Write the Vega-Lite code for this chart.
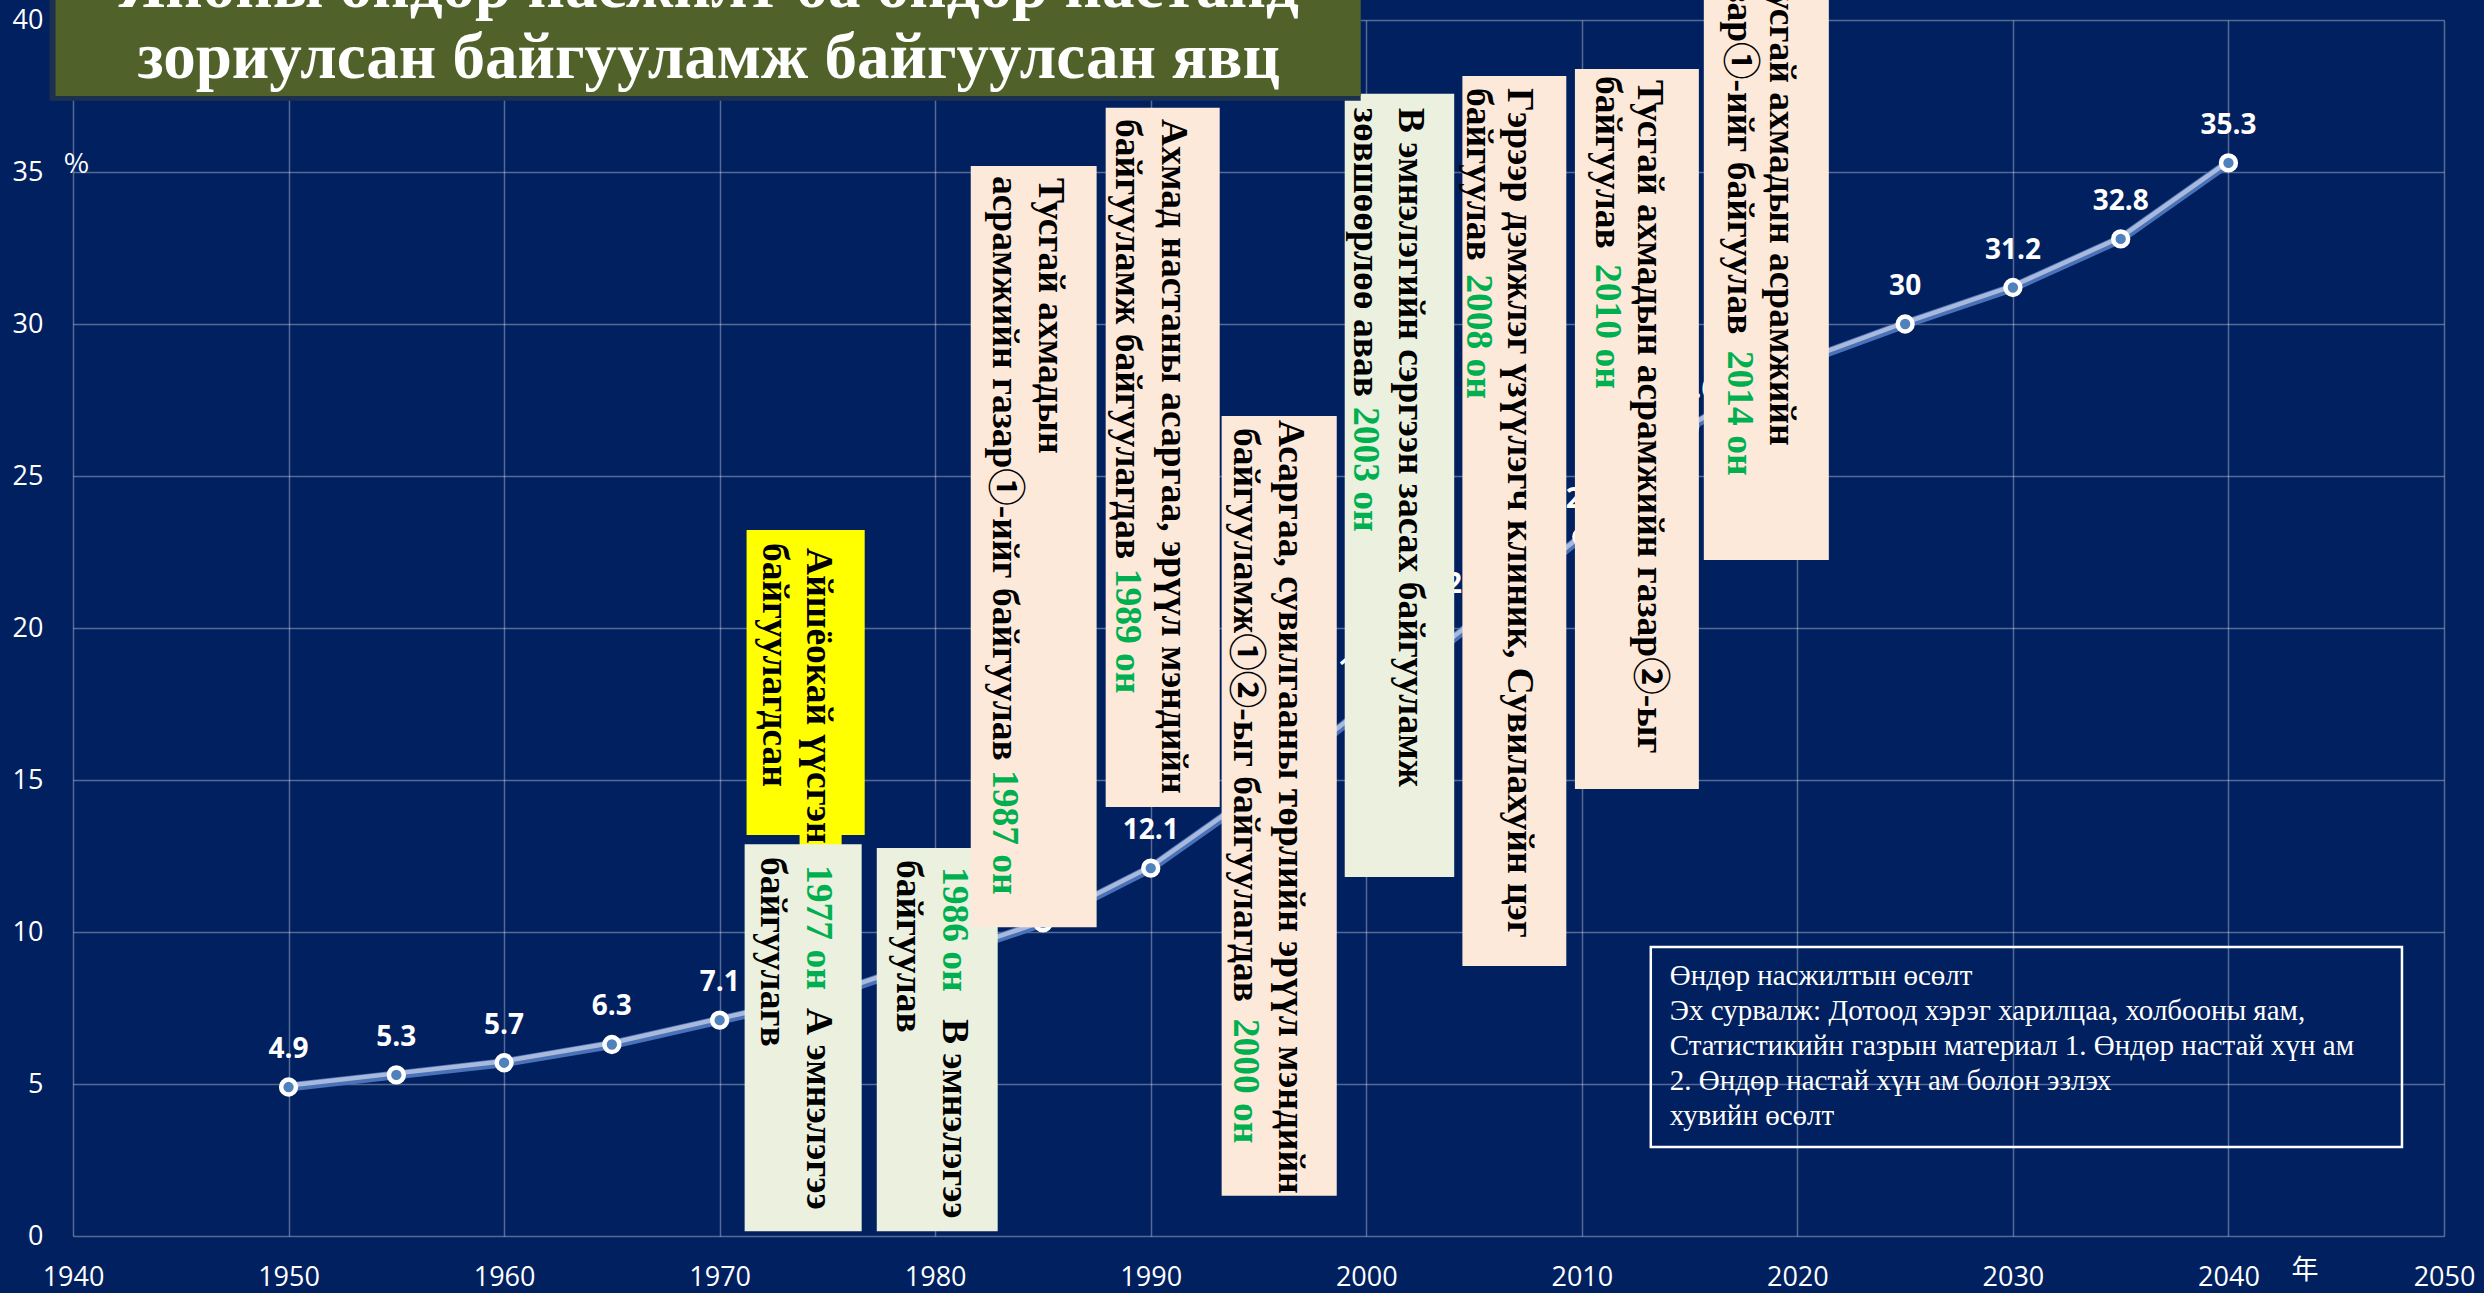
{
  "$schema": "https://vega.github.io/schema/vega-lite/v6.json",
  "width": 2371,
  "height": 1216,
  "autosize": {"type": "none"},
  "padding": {"left": 73, "top": 20, "right": 40, "bottom": 57},
  "background": "#002060",
  "config": {
    "view": {"stroke": null},
    "axis": {"grid": true, "domain": false, "ticks": false, "labelFont": "Open Sans", "labelFontSize": 27,
      "labelColor": "#ffffff", "labelFlush": false, "labelOverlap": false,
      "gridColor": "#ffffff", "gridOpacity": 0.33, "gridWidth": 1.5},
    "axisX": {"labelPadding": 28},
    "axisY": {"labelPadding": 30}
  },
  "datasets": {
    "series": [
      {"year": 1950, "pct": 4.9}, {"year": 1955, "pct": 5.3}, {"year": 1960, "pct": 5.7},
      {"year": 1965, "pct": 6.3}, {"year": 1970, "pct": 7.1}, {"year": 1975, "pct": 7.9},
      {"year": 1980, "pct": 9.1}, {"year": 1985, "pct": 10.3}, {"year": 1990, "pct": 12.1},
      {"year": 1995, "pct": 14.6}, {"year": 2000, "pct": 17.4}, {"year": 2005, "pct": 20.2},
      {"year": 2010, "pct": 23.0}, {"year": 2015, "pct": 26.6}, {"year": 2020, "pct": 28.7},
      {"year": 2025, "pct": 30}, {"year": 2030, "pct": 31.2}, {"year": 2035, "pct": 32.8},
      {"year": 2040, "pct": 35.3}
    ],
    "boxes": [
      {"x1": 1971.25, "x2": 1976.73, "y1": 23.22, "y2": 13.19, "kind": "origin"},
      {"x1": 1973.71, "x2": 1975.66, "y1": 13.2, "y2": 12.83, "kind": "origin"},
      {"x1": 1971.16, "x2": 1976.59, "y1": 12.89, "y2": 0.16, "kind": "hospital"},
      {"x1": 1977.29, "x2": 1982.90, "y1": 12.76, "y2": 0.16, "kind": "hospital"},
      {"x1": 1981.65, "x2": 1987.49, "y1": 35.20, "y2": 10.16, "kind": "facility"},
      {"x1": 1987.91, "x2": 1993.20, "y1": 37.11, "y2": 14.11, "kind": "facility"},
      {"x1": 1993.29, "x2": 1998.63, "y1": 26.97, "y2": 1.32, "kind": "facility"},
      {"x1": 1999.00, "x2": 2004.08, "y1": 37.57, "y2": 11.81, "kind": "hospital"},
      {"x1": 2004.46, "x2": 2009.28, "y1": 38.16, "y2": 8.88, "kind": "facility"},
      {"x1": 2009.68, "x2": 2015.43, "y1": 38.39, "y2": 14.70, "kind": "facility"},
      {"x1": 2015.66, "x2": 2021.46, "y1": 42.0, "y2": 22.24, "kind": "facility"}
    ],
    "notes": [
      {"x": 1974.55, "y": 22.63, "text": "Айшёокай үүсгэн", "role": "event"},
      {"x": 1972.51, "y": 22.80, "text": "байгуулагдсан", "role": "event"},
      {"x": 1974.55, "y": 12.20, "text": "1977 он", "role": "year"},
      {"x": 1974.55, "y": 7.50, "text": "А эмнэлэгээ", "role": "event"},
      {"x": 1972.41, "y": 12.47, "text": "байгуулагв", "role": "event"},
      {"x": 1980.86, "y": 12.14, "text": "1986 он", "role": "year"},
      {"x": 1980.86, "y": 7.14, "text": "В эмнэлэгээ", "role": "event"},
      {"x": 1978.72, "y": 12.37, "text": "байгуулав", "role": "event"},
      {"x": 1985.31, "y": 34.80, "text": "Тусгай ахмадын", "role": "event"},
      {"x": 1983.18, "y": 34.87, "text": "асрамжийн газар①-ийг байгуулав", "role": "event"},
      {"x": 1983.18, "y": 15.33, "text": "1987 он", "role": "year"},
      {"x": 1991.02, "y": 36.74, "text": "Ахмад настаны асаргаа, эрүүл мэндийн", "role": "event"},
      {"x": 1988.89, "y": 36.74, "text": "байгууламж байгуулагдав", "role": "event"},
      {"x": 1988.89, "y": 21.95, "text": "1989 он", "role": "year"},
      {"x": 1996.45, "y": 26.84, "text": "Асаргаа, сувилгааны төрлийн эрүүл мэндийн", "role": "event"},
      {"x": 1994.36, "y": 26.58, "text": "байгууламж①②-ыг байгуулагдав", "role": "event"},
      {"x": 1994.36, "y": 7.15, "text": "2000 он", "role": "year"},
      {"x": 2002.02, "y": 37.11, "text": "В эмнэлэгийн сэргээн засах байгууламж", "role": "event"},
      {"x": 1999.93, "y": 37.11, "text": "зөвшөөрлөө авав", "role": "event"},
      {"x": 1999.93, "y": 27.27, "text": "2003 он", "role": "year"},
      {"x": 2007.08, "y": 37.76, "text": "Гэрээр дэмжлэг үзүүлэгч клиник, Сувилахуйн цэг", "role": "event"},
      {"x": 2005.17, "y": 37.76, "text": "байгуулав", "role": "event"},
      {"x": 2005.17, "y": 31.64, "text": "2008 он", "role": "year"},
      {"x": 2013.11, "y": 38.03, "text": "Тусгай ахмадын асрамжийн газар②-ыг", "role": "event"},
      {"x": 2011.16, "y": 38.16, "text": "байгуулав", "role": "event"},
      {"x": 2011.16, "y": 31.97, "text": "2010 он", "role": "year"},
      {"x": 2019.23, "y": 41.71, "text": "Тусгай ахмадын асрамжийн", "role": "event"},
      {"x": 2017.29, "y": 42.25, "text": "газар①-ийг байгуулав", "role": "event"},
      {"x": 2017.29, "y": 29.12, "text": "2014 он", "role": "year"}
    ],
    "titlebox": [
      {"x1": 1938.91, "x2": 1999.74, "y1": 41.0, "y2": 37.34, "part": "shadow"},
      {"x1": 1939.19, "x2": 1999.74, "y1": 41.0, "y2": 37.50, "part": "panel"}
    ],
    "titletext": [
      {"x": 1969.49, "y": 40.43, "text": "Японы өндөр насжилт ба өндөр настанд"},
      {"x": 1969.49, "y": 38.09, "text": "зориулсан байгууламж байгуулсан явц"}
    ],
    "sourcebox": [
      {"x1": 2013.20, "x2": 2048.05, "y1": 9.51, "y2": 2.93}
    ],
    "sourcetext": [
      {"x": 2014.08, "y": 8.26, "text": "Өндөр насжилтын өсөлт\nЭх сурвалж: Дотоод хэрэг харилцаа, холбооны яам,\nСтатистикийн газрын материал 1. Өндөр настай хүн ам\n2. Өндөр настай хүн ам болон эзлэх\nхувийн өсөлт"}
    ],
    "units": [
      {"x": 1940.16, "y": 35.23, "text": "%"},
      {"x": 2043.55, "y": -1.15, "text": "年"}
    ]
  },
  "resolve": {"scale": {"color": "independent", "fill": "independent"}},
  "layer": [
    {
      "data": {"name": "series"},
      "mark": {"type": "line", "color": "#4A72B8", "strokeWidth": 9},
      "encoding": {
        "x": {"field": "year", "type": "quantitative", "title": null,
          "scale": {"domain": [1940, 2050], "nice": false, "zero": false},
          "axis": {"values": [1940, 1950, 1960, 1970, 1980, 1990, 2000, 2010, 2020, 2030, 2040, 2050], "format": "d", "title": null}},
        "y": {"field": "pct", "type": "quantitative", "title": null,
          "scale": {"domain": [0, 40], "nice": false, "zero": false},
          "axis": {"values": [0, 5, 10, 15, 20, 25, 30, 35, 40], "title": null}}
      }
    },
    {
      "data": {"name": "series"},
      "mark": {"type": "line", "color": "#A8B9DC", "strokeWidth": 4.5, "yOffset": -1.5},
      "encoding": {
        "x": {"field": "year", "type": "quantitative", "title": null},
        "y": {"field": "pct", "type": "quantitative", "title": null}
      }
    },
    {
      "data": {"name": "series"},
      "mark": {"type": "circle", "fill": "#4F81BD", "stroke": "#ffffff", "strokeWidth": 4.5, "size": 220, "opacity": 1},
      "encoding": {
        "x": {"field": "year", "type": "quantitative", "title": null},
        "y": {"field": "pct", "type": "quantitative", "title": null}
      }
    },
    {
      "data": {"name": "series"},
      "mark": {"type": "text", "dy": -37, "font": "Open Sans", "fontWeight": "bold", "fontSize": 28, "color": "#ffffff", "baseline": "middle"},
      "encoding": {
        "x": {"field": "year", "type": "quantitative", "title": null},
        "y": {"field": "pct", "type": "quantitative", "title": null},
        "text": {"field": "pct", "type": "quantitative"}
      }
    },
    {
      "data": {"name": "boxes"},
      "mark": {"type": "rect", "opacity": 1},
      "encoding": {
        "x": {"field": "x1", "type": "quantitative", "title": null},
        "x2": {"field": "x2"},
        "y": {"field": "y1", "type": "quantitative", "title": null},
        "y2": {"field": "y2"},
        "fill": {"field": "kind", "type": "nominal", "scale": {"domain": ["facility", "hospital", "origin"], "range": ["#FDE9D9", "#EBF1DE", "#FFFF00"]}, "legend": null}
      }
    },
    {
      "data": {"name": "notes"},
      "mark": {"type": "text", "angle": 90, "align": "left", "baseline": "middle", "font": "Liberation Serif, Noto Sans CJK JP, serif", "fontWeight": "bold", "fontSize": 37.5},
      "encoding": {
        "x": {"field": "x", "type": "quantitative", "title": null},
        "y": {"field": "y", "type": "quantitative", "title": null},
        "text": {"field": "text", "type": "nominal"},
        "color": {"field": "role", "type": "nominal", "scale": {"domain": ["event", "year"], "range": ["#000000", "#00B050"]}, "legend": null}
      }
    },
    {
      "data": {"name": "titlebox"},
      "mark": {"type": "rect", "opacity": 1},
      "encoding": {
        "x": {"field": "x1", "type": "quantitative", "title": null},
        "x2": {"field": "x2"},
        "y": {"field": "y1", "type": "quantitative", "title": null},
        "y2": {"field": "y2"},
        "fill": {"field": "part", "type": "nominal", "scale": {"domain": ["shadow", "panel"], "range": ["#1C3150", "#50622A"]}, "legend": null}
      }
    },
    {
      "data": {"name": "titletext"},
      "mark": {"type": "text", "align": "center", "baseline": "alphabetic", "font": "Liberation Serif", "fontWeight": "bold", "fontSize": 65, "color": "#ffffff"},
      "encoding": {
        "x": {"field": "x", "type": "quantitative", "title": null},
        "y": {"field": "y", "type": "quantitative", "title": null},
        "text": {"field": "text", "type": "nominal"}
      }
    },
    {
      "data": {"name": "sourcebox"},
      "mark": {"type": "rect", "fillOpacity": 0, "stroke": "#ffffff", "strokeWidth": 2.5},
      "encoding": {
        "x": {"field": "x1", "type": "quantitative", "title": null},
        "x2": {"field": "x2"},
        "y": {"field": "y1", "type": "quantitative", "title": null},
        "y2": {"field": "y2"}
      }
    },
    {
      "data": {"name": "sourcetext"},
      "mark": {"type": "text", "align": "left", "baseline": "alphabetic", "lineBreak": "\n", "lineHeight": 35, "font": "Liberation Serif", "fontSize": 29, "color": "#ffffff"},
      "encoding": {
        "x": {"field": "x", "type": "quantitative", "title": null},
        "y": {"field": "y", "type": "quantitative", "title": null},
        "text": {"field": "text", "type": "nominal"}
      }
    },
    {
      "data": {"name": "units"},
      "mark": {"type": "text", "align": "center", "baseline": "middle", "font": "Noto Sans CJK JP", "fontSize": 27, "color": "#ffffff"},
      "encoding": {
        "x": {"field": "x", "type": "quantitative", "title": null},
        "y": {"field": "y", "type": "quantitative", "title": null},
        "text": {"field": "text", "type": "nominal"}
      }
    }
  ]
}
